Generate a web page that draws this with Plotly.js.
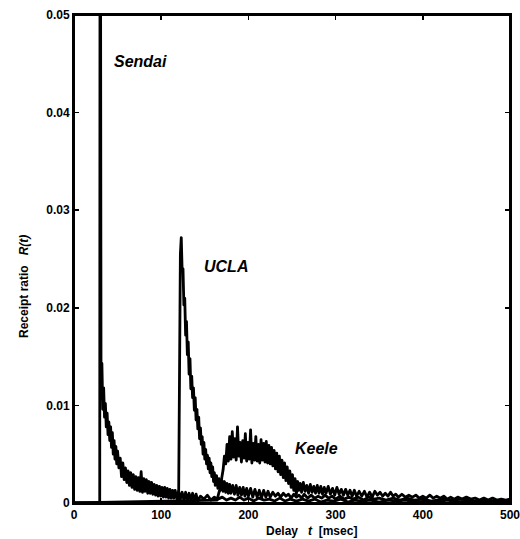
<!DOCTYPE html>
<html>
<head>
<meta charset="utf-8">
<script src="https://cdn.plot.ly/plotly-3.0.1.min.js"></script>
<style>
html,body{margin:0;padding:0;background:#fff;}
#chart{width:520px;height:539px;}
.scatterlayer path.js-line{stroke-linejoin:round;}
</style>
</head>
<body>
<div id="chart"></div>
<script>
// Delay t [msec] and receipt ratio R(t) for each site (noisy 1-msec histograms)
const sendaiT = [
  0, 29.5, 30, 31, 32, 33, 34, 35, 36, 37,
  38, 39, 40, 41, 42, 43, 44, 45, 46, 47,
  48, 49, 50, 51.5, 53, 54.5, 56, 57.5, 59, 60.5,
  62, 63.5, 65, 66.5, 68, 69.5, 71, 72.5, 74, 75.5,
  77, 78.5, 80, 81.5, 83, 84.5, 86, 87.5, 89, 90.5,
  92, 93.5, 95, 96.5, 98, 99.5, 101, 102.5, 104, 105.5,
  107, 108.5, 110, 111.5, 113, 114.5, 116, 118, 120, 122,
  124, 126, 128, 130, 132, 134, 136, 138, 140, 142,
  145, 149, 153, 157, 161, 165, 170, 175, 180, 185,
  190, 195, 200, 206, 212, 218, 224, 230, 236, 242,
  248, 255, 262, 269, 276, 283, 290, 298, 306, 314,
  322, 330, 340, 350, 360, 370, 380, 392, 404, 416,
  428, 440, 452, 464, 476, 488, 500
];
const sendaiR = [
  0, 0, 0.09, 0.0125, 0.0143, 0.0096, 0.0118, 0.0088, 0.0102, 0.0078,
  0.0092, 0.0070, 0.0083, 0.0064, 0.0078, 0.0057, 0.0072, 0.0050, 0.0064, 0.0045,
  0.0058, 0.0040, 0.0053, 0.0036, 0.0046, 0.0027, 0.0041, 0.0024, 0.0036, 0.0021,
  0.0033, 0.0018, 0.0031, 0.0016, 0.0029, 0.0014, 0.0027, 0.0013, 0.0026, 0.0012,
  0.0032, 0.0011, 0.0025, 0.0012, 0.0024, 0.0010, 0.0022, 0.0010, 0.0021, 0.0009,
  0.0019, 0.0008, 0.0018, 0.0007, 0.0017, 0.0007, 0.0016, 0.0006, 0.0016, 0.0006,
  0.0015, 0.0005, 0.0014, 0.0005, 0.0013, 0.0005, 0.0013, 0.0004, 0.0012, 0.0004,
  0.0011, 0.0003, 0.0011, 0.0003, 0.0010, 0.0003, 0.0010, 0.0002, 0.0009, 0.0002,
  0.0007, 0.0004, 0.0008, 0.0003, 0.0006, 0.0004, 0.0006, 0.0003, 0.0005, 0.0003,
  0.0006, 0.0003, 0.0005, 0.0002, 0.0005, 0.0003, 0.0004, 0.0002, 0.0005, 0.0002,
  0.0004, 0.0002, 0.0004, 0.0002, 0.0004, 0.0001, 0.0003, 0.0002, 0.0004, 0.0001,
  0.0003, 0.0002, 0.0003, 0.0001, 0.0003, 0.0002, 0.0003, 0.0001, 0.0002, 0.0001,
  0.0003, 0.0001, 0.0002, 0.0001, 0.0002, 0.0001, 0.0002
];

const uclaT = [
  0, 119, 120, 121, 122, 123, 124, 125, 126, 127,
  128, 129, 130, 131, 132, 133, 134, 135, 136, 137,
  138, 139, 140, 141, 142, 143, 144, 145, 146, 147,
  148, 149, 150, 151, 152, 153, 154, 155, 156, 157,
  158, 159, 160, 161, 162, 163.5, 165, 166.5, 168, 169.5,
  171, 172.5, 174, 175.5, 177, 178.5, 180, 182, 184, 186,
  188, 190, 192, 194, 196, 198, 200, 202.5, 205, 207.5,
  210, 212.5, 215, 217.5, 220, 222.5, 225, 228, 231, 234,
  237, 240, 243, 246, 249, 252, 255, 258, 261, 264,
  268, 272, 276, 280, 284, 288, 292, 296, 300, 305,
  310, 315, 320, 326, 332, 338, 344, 350, 358, 366,
  374, 382, 390, 400, 410, 422, 434, 446, 458, 470,
  482, 491, 500
];
const uclaR = [
  0, 0, 0.0004, 0.0190, 0.0255, 0.0272, 0.0238, 0.0240, 0.0203, 0.0210,
  0.0172, 0.0186, 0.0152, 0.0165, 0.0132, 0.0148, 0.0117, 0.0130, 0.0108, 0.0118,
  0.0095, 0.0108, 0.0085, 0.0096, 0.0076, 0.0088, 0.0066, 0.0077, 0.0060, 0.0068,
  0.0050, 0.0062, 0.0045, 0.0055, 0.0040, 0.0049, 0.0035, 0.0046, 0.0031, 0.0041,
  0.0027, 0.0037, 0.0022, 0.0031, 0.0018, 0.0028, 0.0015, 0.0025, 0.0013, 0.0023,
  0.0012, 0.0022, 0.0011, 0.0020, 0.0010, 0.0019, 0.0010, 0.0018, 0.0009, 0.0018,
  0.0008, 0.0016, 0.0008, 0.0016, 0.0007, 0.0015, 0.0007, 0.0015, 0.0006, 0.0014,
  0.0006, 0.0013, 0.0005, 0.0013, 0.0006, 0.0012, 0.0006, 0.0011, 0.0007, 0.0010,
  0.0006, 0.0010, 0.0007, 0.0009, 0.0005, 0.0009, 0.0006, 0.0008, 0.0005, 0.0009,
  0.0005, 0.0008, 0.0005, 0.0007, 0.0005, 0.0008, 0.0005, 0.0007, 0.0004, 0.0007,
  0.0004, 0.0006, 0.0004, 0.0006, 0.0003, 0.0006, 0.0004, 0.0005, 0.0003, 0.0005,
  0.0003, 0.0005, 0.0003, 0.0004, 0.0002, 0.0004, 0.0003, 0.0004, 0.0002, 0.0003,
  0.0002, 0.0003, 0.0002
];

const keeleT = [
  0, 164, 166, 168, 169.5, 171, 172.5, 174, 175.5, 177,
  178.5, 180, 181.5, 183, 184.5, 186, 187.5, 189, 190.5, 192,
  193.5, 195, 196.5, 198, 199.5, 201, 202.5, 204, 205.5, 207,
  208.5, 210, 211.5, 213, 214.5, 216, 217.5, 219, 220.5, 222,
  223.5, 225, 226.5, 228, 229.5, 231, 232.5, 234, 235.5, 237,
  238.5, 240, 241.5, 243, 244.5, 246, 247.5, 249, 250.5, 252,
  253.5, 255, 256.5, 258, 259.5, 261, 263, 265, 267, 269,
  271, 273, 275, 277, 279, 281, 283, 285, 287, 289,
  291.5, 294, 296.5, 299, 301.5, 304, 306.5, 309, 311.5, 314,
  316.5, 319, 321.5, 324, 327, 330, 333, 336, 339, 342,
  345, 348, 351, 354, 357, 360, 363, 366, 369, 372,
  376, 380, 384, 388, 392, 396, 400, 404, 408, 412,
  416, 420, 424, 428, 432, 436, 440, 445, 450, 455,
  460, 465, 470, 475, 480, 485, 490, 495, 500
];
const keeleR = [
  0, 0.0003, 0.0010, 0.0016, 0.0026, 0.0034, 0.0048, 0.0040, 0.0060, 0.0043,
  0.0068, 0.0045, 0.0073, 0.0047, 0.0066, 0.0044, 0.0078, 0.0048, 0.0062, 0.0042,
  0.0064, 0.0046, 0.0071, 0.0043, 0.0062, 0.0045, 0.0075, 0.0041, 0.0061, 0.0044,
  0.0068, 0.0043, 0.0060, 0.0041, 0.0065, 0.0044, 0.0061, 0.0042, 0.0063, 0.0041,
  0.0059, 0.0040, 0.0057, 0.0038, 0.0054, 0.0035, 0.0051, 0.0032, 0.0048, 0.0029,
  0.0044, 0.0026, 0.0041, 0.0023, 0.0037, 0.0020, 0.0033, 0.0016, 0.0029, 0.0013,
  0.0025, 0.0009, 0.0022, 0.0013, 0.0020, 0.0011, 0.0021, 0.0012, 0.0018, 0.0010,
  0.0019, 0.0011, 0.0017, 0.0010, 0.0018, 0.0010, 0.0017, 0.0009, 0.0016, 0.0010,
  0.0017, 0.0009, 0.0015, 0.0008, 0.0016, 0.0009, 0.0014, 0.0008, 0.0014, 0.0008,
  0.0013, 0.0007, 0.0013, 0.0007, 0.0012, 0.0007, 0.0012, 0.0006, 0.0011, 0.0006,
  0.0012, 0.0008, 0.0011, 0.0007, 0.0010, 0.0007, 0.0011, 0.0007, 0.0009, 0.0006,
  0.0009, 0.0006, 0.0008, 0.0006, 0.0008, 0.0005, 0.0007, 0.0005, 0.0008, 0.0005,
  0.0007, 0.0005, 0.0007, 0.0004, 0.0006, 0.0004, 0.0006, 0.0004, 0.0006, 0.0004,
  0.0005, 0.0003, 0.0005, 0.0003, 0.0005, 0.0003, 0.0004, 0.0003, 0.0004
];

const xTickVals = [0, 100, 200, 300, 400, 500];
const xTickText = ['0', '100', '200', '300', '400', '500'];
const yTickVals = [0, 0.01, 0.02, 0.03, 0.04, 0.05];
const yTickText = ['0', '0.01', '0.02', '0.03', '0.04', '0.05'];

const FONT = 'Liberation Sans, Arial, Helvetica, sans-serif';
const lineStyle = {color: '#000', width: 2.8};

const traces = [
  {x: sendaiT, y: sendaiR, name: 'Sendai', mode: 'lines', line: lineStyle},
  {x: uclaT, y: uclaR, name: 'UCLA', mode: 'lines', line: lineStyle},
  {x: keeleT, y: keeleR, name: 'Keele', mode: 'lines', line: lineStyle}
];

const axisCommon = {
  showline: true, linecolor: '#000', linewidth: 2, mirror: 'allticks',
  ticks: 'inside', ticklen: 5, tickwidth: 1.5, tickcolor: '#000',
  showgrid: false, zeroline: false, tickmode: 'array', ticklabeloverflow: 'allow',
  tickfont: {family: FONT, size: 12, color: '#000', weight: 'bold'}
};

const labelFont = {family: FONT, size: 16, color: '#000', weight: 'bold', style: 'italic'};
const titleFont = {family: FONT, size: 12, color: '#000', weight: 'bold'};

const pw = 520 - 74 - 10, ph = 539 - 15 - 36;
const layout = {
  width: 520, height: 539,
  margin: {l: 74, r: 10, t: 15, b: 36},
  paper_bgcolor: '#fff', plot_bgcolor: '#fff',
  showlegend: false,
  xaxis: Object.assign({}, axisCommon, {range: [0, 500], tickvals: xTickVals, ticktext: xTickText}),
  yaxis: Object.assign({}, axisCommon, {range: [0, 0.05], tickvals: yTickVals, ticktext: yTickText}),
  shapes: [
    {type: 'rect', xref: 'paper', yref: 'paper', x0: 0, x1: 1, y0: 0, y1: 1,
     line: {color: '#000', width: 2}, fillcolor: 'rgba(0,0,0,0)', layer: 'above'}
  ],
  annotations: [
    {x: 76, y: 0.0452, xref: 'x', yref: 'y', text: 'Sendai', showarrow: false, font: labelFont},
    {x: 174, y: 0.0242, xref: 'x', yref: 'y', text: 'UCLA', showarrow: false, font: labelFont},
    {x: 278, y: 0.0056, xref: 'x', yref: 'y', text: 'Keele', showarrow: false, font: labelFont},
    {x: (311 - 74) / pw, y: (539 - 36 - 531) / ph, xref: 'paper', yref: 'paper', yanchor: 'middle',
     text: 'Delay\u00A0\u00A0\u00A0<i>t</i>\u00A0\u00A0[msec]', showarrow: false, font: titleFont},
    {x: (15 - 74) / pw, y: (539 - 36 - 287) / ph, xref: 'paper', yref: 'paper', textangle: -90,
     text: 'Receipt ratio\u00A0\u00A0\u00A0<i>R(t)</i>', showarrow: false, font: titleFont}
  ]
};

Plotly.newPlot('chart', traces, layout, {staticPlot: true, displayModeBar: false});
</script>
</body>
</html>
